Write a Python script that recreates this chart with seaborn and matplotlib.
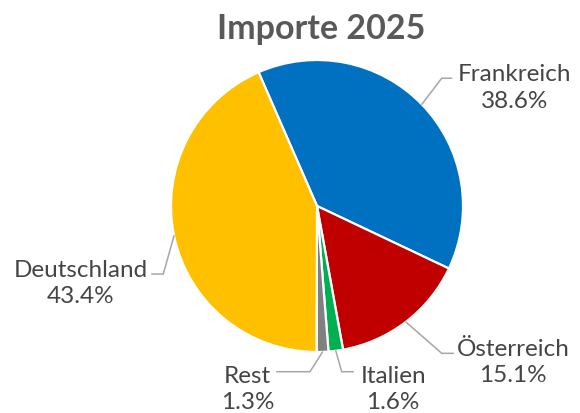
import numpy as np
import matplotlib
matplotlib.use("Agg")
import matplotlib.pyplot as plt
import seaborn as sns

# Importe 2025 nach Land (Anteil in %)
laender = ["Frankreich", "Österreich", "Italien", "Rest", "Deutschland"]
anteile = [38.6, 15.1, 1.6, 1.3, 43.4]
farben = ["#0070C0", "#C00000", "#00B050", "#808080", "#FFC000"]

sns.set_theme(style="white")
plt.rcParams["font.family"] = ["Lato", "DejaVu Sans"]

fig = plt.figure(figsize=(5.8, 4.14), dpi=100)
ax = fig.add_axes([0, 0, 1, 1])

start = 113.6
wedges, _ = ax.pie(anteile, colors=sns.color_palette(farben), startangle=start,
                   counterclock=False, radius=1.0,
                   wedgeprops=dict(edgecolor="white", linewidth=1.6))

# label placement (text centre, elbow of the leader line, end of the leader line)
text_pos = [(1.352, 0.815), (1.342, -1.062), (0.521, -1.253), (-0.476, -1.253), (-1.62, -0.527)]
elbow = [(0.854, 0.875), (0.854, -1.009), (0.169, -1.135), (-0.048, -1.135), (-1.053, -0.466)]
line_end = [0.923, 0.934, 0.249, -0.276, -1.132]

for i, w in enumerate(wedges):
    mid = np.deg2rad((w.theta1 + w.theta2) / 2)
    x0, y0 = np.cos(mid), np.sin(mid)
    ex, ey = elbow[i]
    ax.plot([x0, ex, line_end[i]], [y0, ey, ey], color="#A6A6A6", lw=1.1,
            solid_joinstyle="miter", zorder=1)
    tx, ty = text_pos[i]
    ax.text(tx, ty, f"{laender[i]}\n{anteile[i]:.1f}%", ha="center", va="center",
            fontsize=17.5, color="#454545", linespacing=1.3)

ax.text(0.027, 1.22, "Importe 2025", ha="center", va="center", fontsize=24.5,
        fontweight="bold", color="#595959")

ax.set_aspect("auto")
ax.set_xlim(-317 / 146, (580 - 317) / 146)
ax.set_ylim(-(414 - 207) / 146, 207 / 146)
ax.axis("off")

fig.savefig("out.png", dpi=100)
